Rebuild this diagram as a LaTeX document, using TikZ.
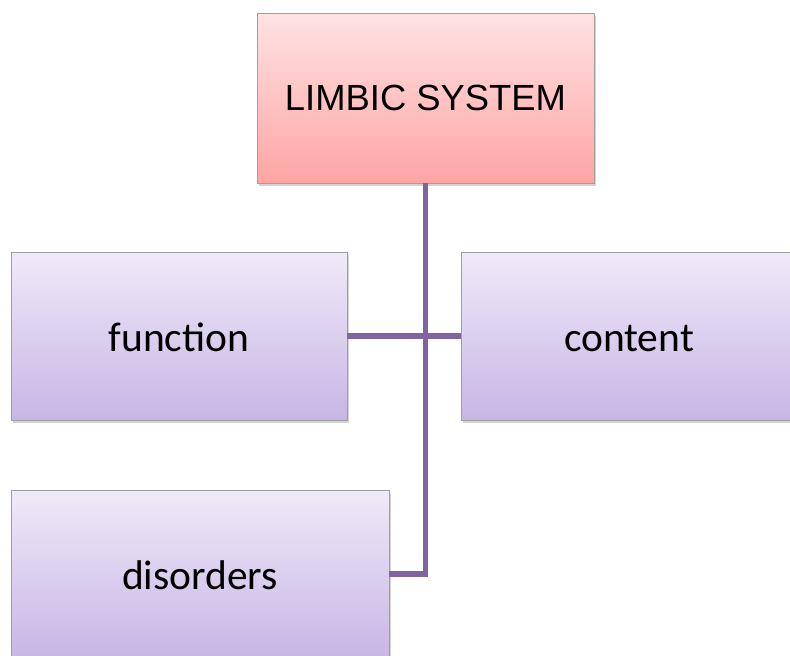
\documentclass[tikz,border=0pt]{standalone}
\usepackage{fontspec}
\newfontfamily\headfont{Liberation Sans}
\newfontfamily\boxfont{Carlito}
\usepackage{tikz}
\usetikzlibrary{shadows}
\definecolor{linkpurple}{HTML}{8064A2}
\definecolor{headtop}{HTML}{FFE3E3}
\definecolor{headbottom}{HTML}{FFA4A4}
\definecolor{subtop}{HTML}{EFEAF8}
\definecolor{subbottom}{HTML}{C7B6E5}

\begin{document}
\begin{tikzpicture}[x=1pt, y=-1pt,
  box/.style={draw=gray!75, line width=0.9pt, rectangle, minimum height=168pt,
    drop shadow={shadow xshift=1.5pt, shadow yshift=-3pt, opacity=0.35, fill=gray}},
  headbox/.style={box, top color=headtop, bottom color=headbottom, minimum width=337pt, minimum height=170pt,
    font=\headfont\fontsize{36.4}{40}\selectfont},
  subbox/.style={box, top color=subtop, bottom color=subbottom, text height=30pt, text depth=0pt,
    font=\boxfont\fontsize{41.5}{46}\selectfont},
  link/.style={draw=linkpurple, line width=5.5pt}]
  \useasboundingbox (0,0) rectangle (790,656);
  \clip (0,0) rectangle (790,656);
  \node[headbox] (limbic) at (425.5, 98) {LIMBIC SYSTEM};
  \node[subbox, minimum width=336pt] (function) at (179, 336) {function};
  \node[subbox, minimum width=336pt] (content) at (629, 336) {content};
  \node[subbox, minimum width=378pt] (disorders) at (200, 574) {disorders};
  % connectors
  \draw[link] (limbic.south) -- (limbic.south |- disorders.east) -- (disorders.east);
  \draw[link] (function.east) -- (content.west);
\end{tikzpicture}
\end{document}
